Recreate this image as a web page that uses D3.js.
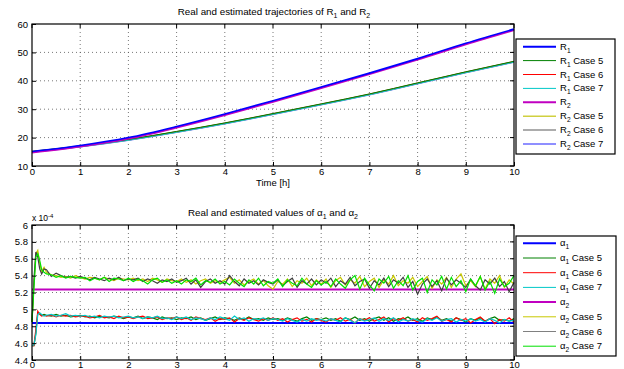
<!DOCTYPE html>
<html>
<head>
<meta charset="utf-8">
<script src="https://cdn.jsdelivr.net/npm/d3@7"></script>
<style>
  body { margin: 0; background: #fff; }
  svg { font-family: "Liberation Sans", Arial, sans-serif; }
  .grid line { stroke: #555; stroke-width: 0.8; stroke-dasharray: 1 3; }
</style>
</head>
<body>
<svg id="chart" width="624" height="369"></svg>
<script>
// ---- top panel: trajectories (hours -> value)
var tR = [0, 1, 2, 3, 4, 5, 6, 7, 8, 9, 10];
var rUpper = [15.0, 17.1, 19.9, 23.8, 28.2, 32.9, 37.7, 42.6, 47.7, 53.1, 58.1];
var rLower = [15.0, 16.9, 19.2, 22.0, 25.0, 28.3, 31.7, 35.2, 39.1, 43.0, 46.7];

// ---- bottom panel: alpha values (units of 1e-4)
var alpha1Real = 4.84;
var alpha2Real = 5.235;
var tEarly = [0, 0.04, 0.08, 0.12, 0.16, 0.2, 0.25];
var tA = tEarly.concat(d3.range(3, 101).map(function(i) { return i / 10; }));

var a2case5 = [4.85, 5.30, 5.66, 5.70, 5.55, 5.45, 5.50,
  5.44, 5.41, 5.40, 5.38, 5.39, 5.37, 5.40, 5.38,
  5.36, 5.38, 5.37, 5.35, 5.38, 5.36, 5.34, 5.37, 5.36, 5.35,
  5.37, 5.34, 5.36, 5.33, 5.37, 5.35, 5.32, 5.36, 5.34, 5.33,
  5.36, 5.32, 5.35, 5.30, 5.34, 5.36, 5.31, 5.34, 5.32, 5.35,
  5.38, 5.31, 5.35, 5.29, 5.33, 5.36, 5.30, 5.34, 5.28, 5.24,
  5.33, 5.30, 5.36, 5.27, 5.34, 5.31, 5.37, 5.28, 5.35, 5.30,
  5.36, 5.26, 5.34, 5.38, 5.29, 5.35, 5.31, 5.39, 5.27, 5.33,
  5.37, 5.26, 5.35, 5.30, 5.40, 5.28, 5.34, 5.31, 5.38, 5.27,
  5.33, 5.39, 5.25, 5.35, 5.30, 5.38, 5.26, 5.36, 5.42, 5.28,
  5.34, 5.27, 5.39, 5.24, 5.36, 5.31, 5.40, 5.26, 5.35, 5.30];
var a2case6 = [4.85, 5.35, 5.68, 5.62, 5.48, 5.42, 5.48,
  5.47, 5.39, 5.43, 5.40, 5.38, 5.39, 5.37, 5.39,
  5.37, 5.35, 5.38, 5.36, 5.34, 5.37, 5.35, 5.38, 5.34, 5.36,
  5.35, 5.37, 5.33, 5.36, 5.34, 5.31, 5.35, 5.33, 5.36, 5.32,
  5.34, 5.37, 5.30, 5.35, 5.26, 5.33, 5.36, 5.31, 5.34, 5.30,
  5.40, 5.33, 5.28, 5.36, 5.31, 5.34, 5.29, 5.35, 5.32, 5.30,
  5.35, 5.28, 5.33, 5.37, 5.26, 5.34, 5.30, 5.36, 5.29, 5.35,
  5.31, 5.37, 5.27, 5.34, 5.30, 5.38, 5.28, 5.33, 5.36, 5.25,
  5.34, 5.29, 5.37, 5.27, 5.35, 5.31, 5.38, 5.26, 5.33, 5.18,
  5.30, 5.36, 5.27, 5.34, 5.22, 5.37, 5.29, 5.35, 5.31, 5.26,
  5.36, 5.28, 5.23, 5.35, 5.30, 5.37, 5.27, 5.33, 5.21, 5.32];
var a2case7 = [4.85, 5.25, 5.62, 5.66, 5.58, 5.47, 5.44,
  5.42, 5.41, 5.38, 5.40, 5.37, 5.39, 5.38, 5.37,
  5.38, 5.34, 5.37, 5.35, 5.38, 5.33, 5.37, 5.36, 5.34, 5.37,
  5.33, 5.36, 5.34, 5.30, 5.35, 5.37, 5.32, 5.35, 5.31, 5.34,
  5.30, 5.35, 5.33, 5.37, 5.29, 5.34, 5.32, 5.36, 5.30, 5.33,
  5.29, 5.36, 5.31, 5.27, 5.35, 5.30, 5.37, 5.28, 5.33, 5.31,
  5.36, 5.27, 5.35, 5.31, 5.28, 5.37, 5.30, 5.26, 5.34, 5.29,
  5.33, 5.27, 5.36, 5.30, 5.25, 5.35, 5.40, 5.24, 5.37, 5.29,
  5.22, 5.36, 5.31, 5.39, 5.25, 5.34, 5.28, 5.40, 5.23, 5.33,
  5.37, 5.20, 5.35, 5.29, 5.39, 5.24, 5.38, 5.27, 5.34, 5.21,
  5.36, 5.28, 5.39, 5.23, 5.33, 5.19, 5.36, 5.27, 5.31, 5.40];
var a1case5 = [4.57, 4.57, 4.72, 4.96, 4.95, 4.93, 4.94,
  4.93, 4.92, 4.94, 4.92, 4.93, 4.91, 4.92, 4.93,
  4.91, 4.92, 4.90, 4.92, 4.91, 4.90, 4.92, 4.91, 4.89, 4.91,
  4.90, 4.92, 4.89, 4.91, 4.90, 4.88, 4.91, 4.89, 4.90, 4.88,
  4.90, 4.89, 4.91, 4.88, 4.90, 4.87, 4.89, 4.91, 4.88, 4.90,
  4.89, 4.87, 4.90, 4.88, 4.91, 4.88, 4.89, 4.87, 4.90, 4.88,
  4.89, 4.87, 4.90, 4.88, 4.86, 4.89, 4.91, 4.87, 4.89, 4.88,
  4.90, 4.87, 4.89, 4.86, 4.90, 4.88, 4.91, 4.87, 4.89, 4.86,
  4.89, 4.91, 4.87, 4.90, 4.86, 4.89, 4.88, 4.91, 4.87, 4.89,
  4.86, 4.90, 4.88, 4.91, 4.87, 4.89, 4.86, 4.90, 4.88, 4.85,
  4.89, 4.87, 4.90, 4.86, 4.89, 4.91, 4.87, 4.88, 4.86, 4.89];
var a1case6 = [4.57, 4.57, 4.76, 4.98, 4.94, 4.92, 4.93,
  4.92, 4.93, 4.91, 4.93, 4.92, 4.93, 4.91, 4.92,
  4.92, 4.90, 4.91, 4.93, 4.90, 4.91, 4.89, 4.92, 4.90, 4.91,
  4.89, 4.91, 4.92, 4.89, 4.90, 4.91, 4.88, 4.90, 4.89, 4.91,
  4.88, 4.90, 4.87, 4.91, 4.89, 4.88, 4.90, 4.86, 4.89, 4.88,
  4.90, 4.85, 4.89, 4.87, 4.90, 4.88, 4.86, 4.89, 4.87, 4.90,
  4.87, 4.89, 4.85, 4.88, 4.90, 4.86, 4.88, 4.85, 4.89, 4.87,
  4.85, 4.89, 4.87, 4.90, 4.86, 4.88, 4.84, 4.89, 4.87, 4.90,
  4.86, 4.88, 4.91, 4.85, 4.89, 4.87, 4.90, 4.86, 4.88, 4.85,
  4.90, 4.87, 4.89, 4.92, 4.86, 4.88, 4.85, 4.90, 4.87, 4.89,
  4.84, 4.88, 4.91, 4.86, 4.89, 4.83, 4.88, 4.86, 4.90, 4.85];
var a1case7 = [4.57, 4.58, 4.70, 4.94, 4.96, 4.94, 4.92,
  4.93, 4.94, 4.92, 4.93, 4.95, 4.92, 4.93, 4.92,
  4.93, 4.91, 4.92, 4.90, 4.92, 4.91, 4.92, 4.90, 4.91, 4.92,
  4.90, 4.91, 4.89, 4.91, 4.90, 4.92, 4.89, 4.90, 4.88, 4.91,
  4.89, 4.91, 4.88, 4.90, 4.89, 4.87, 4.90, 4.88, 4.91, 4.89,
  4.87, 4.92, 4.88, 4.90, 4.86, 4.89, 4.88, 4.90, 4.87, 4.89,
  4.88, 4.86, 4.89, 4.87, 4.85, 4.88, 4.86, 4.89, 4.87, 4.88,
  4.86, 4.89, 4.87, 4.85, 4.90, 4.87, 4.84, 4.89, 4.86, 4.88,
  4.90, 4.86, 4.89, 4.87, 4.90, 4.85, 4.88, 4.86, 4.89, 4.87,
  4.85, 4.89, 4.87, 4.90, 4.86, 4.88, 4.89, 4.85, 4.88, 4.86,
  4.89, 4.86, 4.88, 4.85, 4.89, 4.87, 4.84, 4.88, 4.86, 4.87];

var xTicks = [0, 1, 2, 3, 4, 5, 6, 7, 8, 9, 10];
var yTicksTop = [10, 20, 30, 40, 50, 60];
var yTicksBot = [4.4, 4.6, 4.8, 5, 5.2, 5.4, 5.6, 5.8, 6];

var legTop = [
  {sym: "R", sub: "1", txt: "", color: "#0000ff", w: 2},
  {sym: "R", sub: "1", txt: " Case 5", color: "#008000", w: 1},
  {sym: "R", sub: "1", txt: " Case 6", color: "#ff0000", w: 1},
  {sym: "R", sub: "1", txt: " Case 7", color: "#00c8c8", w: 1},
  {sym: "R", sub: "2", txt: "", color: "#c000c0", w: 2},
  {sym: "R", sub: "2", txt: " Case 5", color: "#d0d040", w: 1.5},
  {sym: "R", sub: "2", txt: " Case 6", color: "#909090", w: 1.5},
  {sym: "R", sub: "2", txt: " Case 7", color: "#6a6aff", w: 1.5}
];
var legBot = [
  {sym: "α", sub: "1", txt: "", color: "#0000ff", w: 2},
  {sym: "α", sub: "1", txt: " Case 5", color: "#008000", w: 1},
  {sym: "α", sub: "1", txt: " Case 6", color: "#ff0000", w: 1},
  {sym: "α", sub: "1", txt: " Case 7", color: "#00c8c8", w: 1},
  {sym: "α", sub: "2", txt: "", color: "#c000c0", w: 2},
  {sym: "α", sub: "2", txt: " Case 5", color: "#c8c800", w: 1},
  {sym: "α", sub: "2", txt: " Case 6", color: "#808080", w: 1},
  {sym: "α", sub: "2", txt: " Case 7", color: "#00e000", w: 1}
];

var svg = d3.select("#chart");
var L = 32, R = 514;

var x1 = d3.scaleLinear().domain([0, 10]).range([L, R]);
var y1 = d3.scaleLinear().domain([10, 60]).range([166, 24]);
var x2 = d3.scaleLinear().domain([0, 10]).range([L, R]);
var y2 = d3.scaleLinear().domain([4.4, 6]).range([360, 225]);

function panel(x, y, yTicks, top, bottom) {
  var grid = svg.append("g").attr("class", "grid");
  grid.selectAll(".gx").data(xTicks.slice(1, -1)).enter().append("line")
    .attr("x1", function(d) { return x(d); }).attr("x2", function(d) { return x(d); })
    .attr("y1", top).attr("y2", bottom);
  grid.selectAll(".gy").data(yTicks.slice(1, -1)).enter().append("line")
    .attr("y1", function(d) { return y(d); }).attr("y2", function(d) { return y(d); })
    .attr("x1", L).attr("x2", R);
}

function axes(x, y, yTicks, top, bottom, fmt, pad) {
  var ax = svg.append("g")
    .attr("transform", "translate(0," + bottom + ")")
    .call(d3.axisBottom(x).tickValues(xTicks).tickSize(-4).tickPadding(pad).tickFormat(d3.format("d")));
  var ay = svg.append("g")
    .attr("transform", "translate(" + L + ",0)")
    .call(d3.axisLeft(y).tickValues(yTicks).tickSize(-4).tickPadding(4).tickFormat(fmt));
  [ax, ay].forEach(function(a) {
    a.select(".domain").remove();
    a.selectAll("line").attr("stroke", "#000");
    a.selectAll("text").attr("font-size", 9.5).attr("fill", "#000")
      .attr("font-family", "Liberation Sans, Arial, sans-serif");
  });
  // ticks on the opposite sides
  svg.append("g").selectAll("line").data(xTicks).enter().append("line")
    .attr("x1", function(d) { return x(d); }).attr("x2", function(d) { return x(d); })
    .attr("y1", top).attr("y2", top + 4).attr("stroke", "#000");
  svg.append("g").selectAll("line").data(yTicks).enter().append("line")
    .attr("y1", function(d) { return y(d); }).attr("y2", function(d) { return y(d); })
    .attr("x1", R).attr("x2", R - 4).attr("stroke", "#000");
  svg.append("rect").attr("x", L).attr("y", top)
    .attr("width", R - L).attr("height", bottom - top)
    .attr("fill", "none").attr("stroke", "#000").attr("stroke-width", 1.2);
}

function subText(sel, sym, sub, rest, size) {
  sel.append("tspan").text(sym);
  sel.append("tspan").attr("dy", 3).attr("font-size", size * 0.7).text(sub);
  if (rest) sel.append("tspan").attr("dy", -3).text(rest);
}

// ---------- top panel
panel(x1, y1, yTicksTop, 24, 166);
var lineR = d3.line().x(function(d, i) { return x1(tR[i]); }).y(function(d) { return y1(d); })
  .curve(d3.curveMonotoneX);
var topSeries = [
  {v: rLower, c: "#6a6aff", w: 1},
  {v: rLower, c: "#909090", w: 1},
  {v: rLower, c: "#d0d040", w: 1},
  {v: rLower, c: "#ff0000", w: 1},
  {v: rLower, c: "#00c8c8", w: 1},
  {v: rLower, c: "#008000", w: 1},
  {v: rUpper, c: "#c000c0", w: 2},
  {v: rUpper, c: "#0000ff", w: 1.6}
];
var offs = [0.6, 0.3, 0, -0.3, 0.3, -0.5, 0.7, -0.3];
topSeries.forEach(function(s, i) {
  svg.append("path").attr("d", lineR(s.v)).attr("fill", "none")
    .attr("stroke", s.c).attr("stroke-width", s.w)
    .attr("transform", "translate(0," + offs[i] + ")");
});
axes(x1, y1, yTicksTop, 24, 166, d3.format("d"), 2);

// ---------- bottom panel
panel(x2, y2, yTicksBot, 225, 360);
var lineA = d3.line().x(function(d, i) { return x2(tA[i]); }).y(function(d) { return y2(d); });
svg.append("line").attr("x1", x2(0)).attr("x2", x2(10))
  .attr("y1", y2(alpha1Real)).attr("y2", y2(alpha1Real))
  .attr("stroke", "#0000ff").attr("stroke-width", 2);
svg.append("line").attr("x1", x2(0)).attr("x2", x2(10))
  .attr("y1", y2(alpha2Real)).attr("y2", y2(alpha2Real))
  .attr("stroke", "#c000c0").attr("stroke-width", 2);
var botSeries = [
  {v: a1case5, c: "#008000"}, {v: a1case6, c: "#ff0000"}, {v: a1case7, c: "#00c8c8"},
  {v: a2case5, c: "#c8c800"}, {v: a2case6, c: "#404040"}, {v: a2case7, c: "#00e000"}
];
botSeries.forEach(function(s) {
  svg.append("path").attr("d", lineA(s.v)).attr("fill", "none")
    .attr("stroke", s.c).attr("stroke-width", 1.2);
});
axes(x2, y2, yTicksBot, 225, 360, function(d) { return String(+d.toFixed(1)); }, 1);

// titles
var t1 = svg.append("text").attr("x", 274).attr("y", 15).attr("text-anchor", "middle")
  .attr("font-size", 9.8);
t1.append("tspan").text("Real and estimated trajectories of R");
t1.append("tspan").attr("dy", 2.5).attr("font-size", 7).text("1");
t1.append("tspan").attr("dy", -2.5).text(" and R");
t1.append("tspan").attr("dy", 2.5).attr("font-size", 7).text("2");

svg.append("text").attr("x", 273).attr("y", 186).attr("text-anchor", "middle")
  .attr("font-size", 9.5).text("Time [h]");

var t2 = svg.append("text").attr("x", 273).attr("y", 216).attr("text-anchor", "middle")
  .attr("font-size", 9.8);
t2.append("tspan").text("Real and estimated values of α");
t2.append("tspan").attr("dy", 2.5).attr("font-size", 7).text("1");
t2.append("tspan").attr("dy", -2.5).text(" and α");
t2.append("tspan").attr("dy", 2.5).attr("font-size", 7).text("2");

var ex = svg.append("text").attr("x", 32).attr("y", 221).attr("font-size", 8.5);
ex.append("tspan").text("x 10");
ex.append("tspan").attr("dy", -3.5).attr("font-size", 6).text("-4");

// legends
function legend(items, x0, y0, w, h, step, first) {
  svg.append("rect").attr("x", x0).attr("y", y0).attr("width", w).attr("height", h)
    .attr("fill", "#fff").attr("stroke", "#000").attr("stroke-width", 1.2);
  items.forEach(function(d, i) {
    var yy = first + i * step;
    svg.append("line").attr("x1", x0 + 7).attr("x2", x0 + 40)
      .attr("y1", yy).attr("y2", yy).attr("stroke", d.color).attr("stroke-width", d.w);
    var t = svg.append("text").attr("x", x0 + 44).attr("y", yy + 3).attr("font-size", 9.5);
    subText(t, d.sym, d.sub, d.txt, 9.5);
  });
}
legend(legTop, 516, 39, 99, 115, 13.9, 46.7);
legend(legBot, 516, 236, 100, 120, 14.7, 243.3);
</script>
</body>
</html>
